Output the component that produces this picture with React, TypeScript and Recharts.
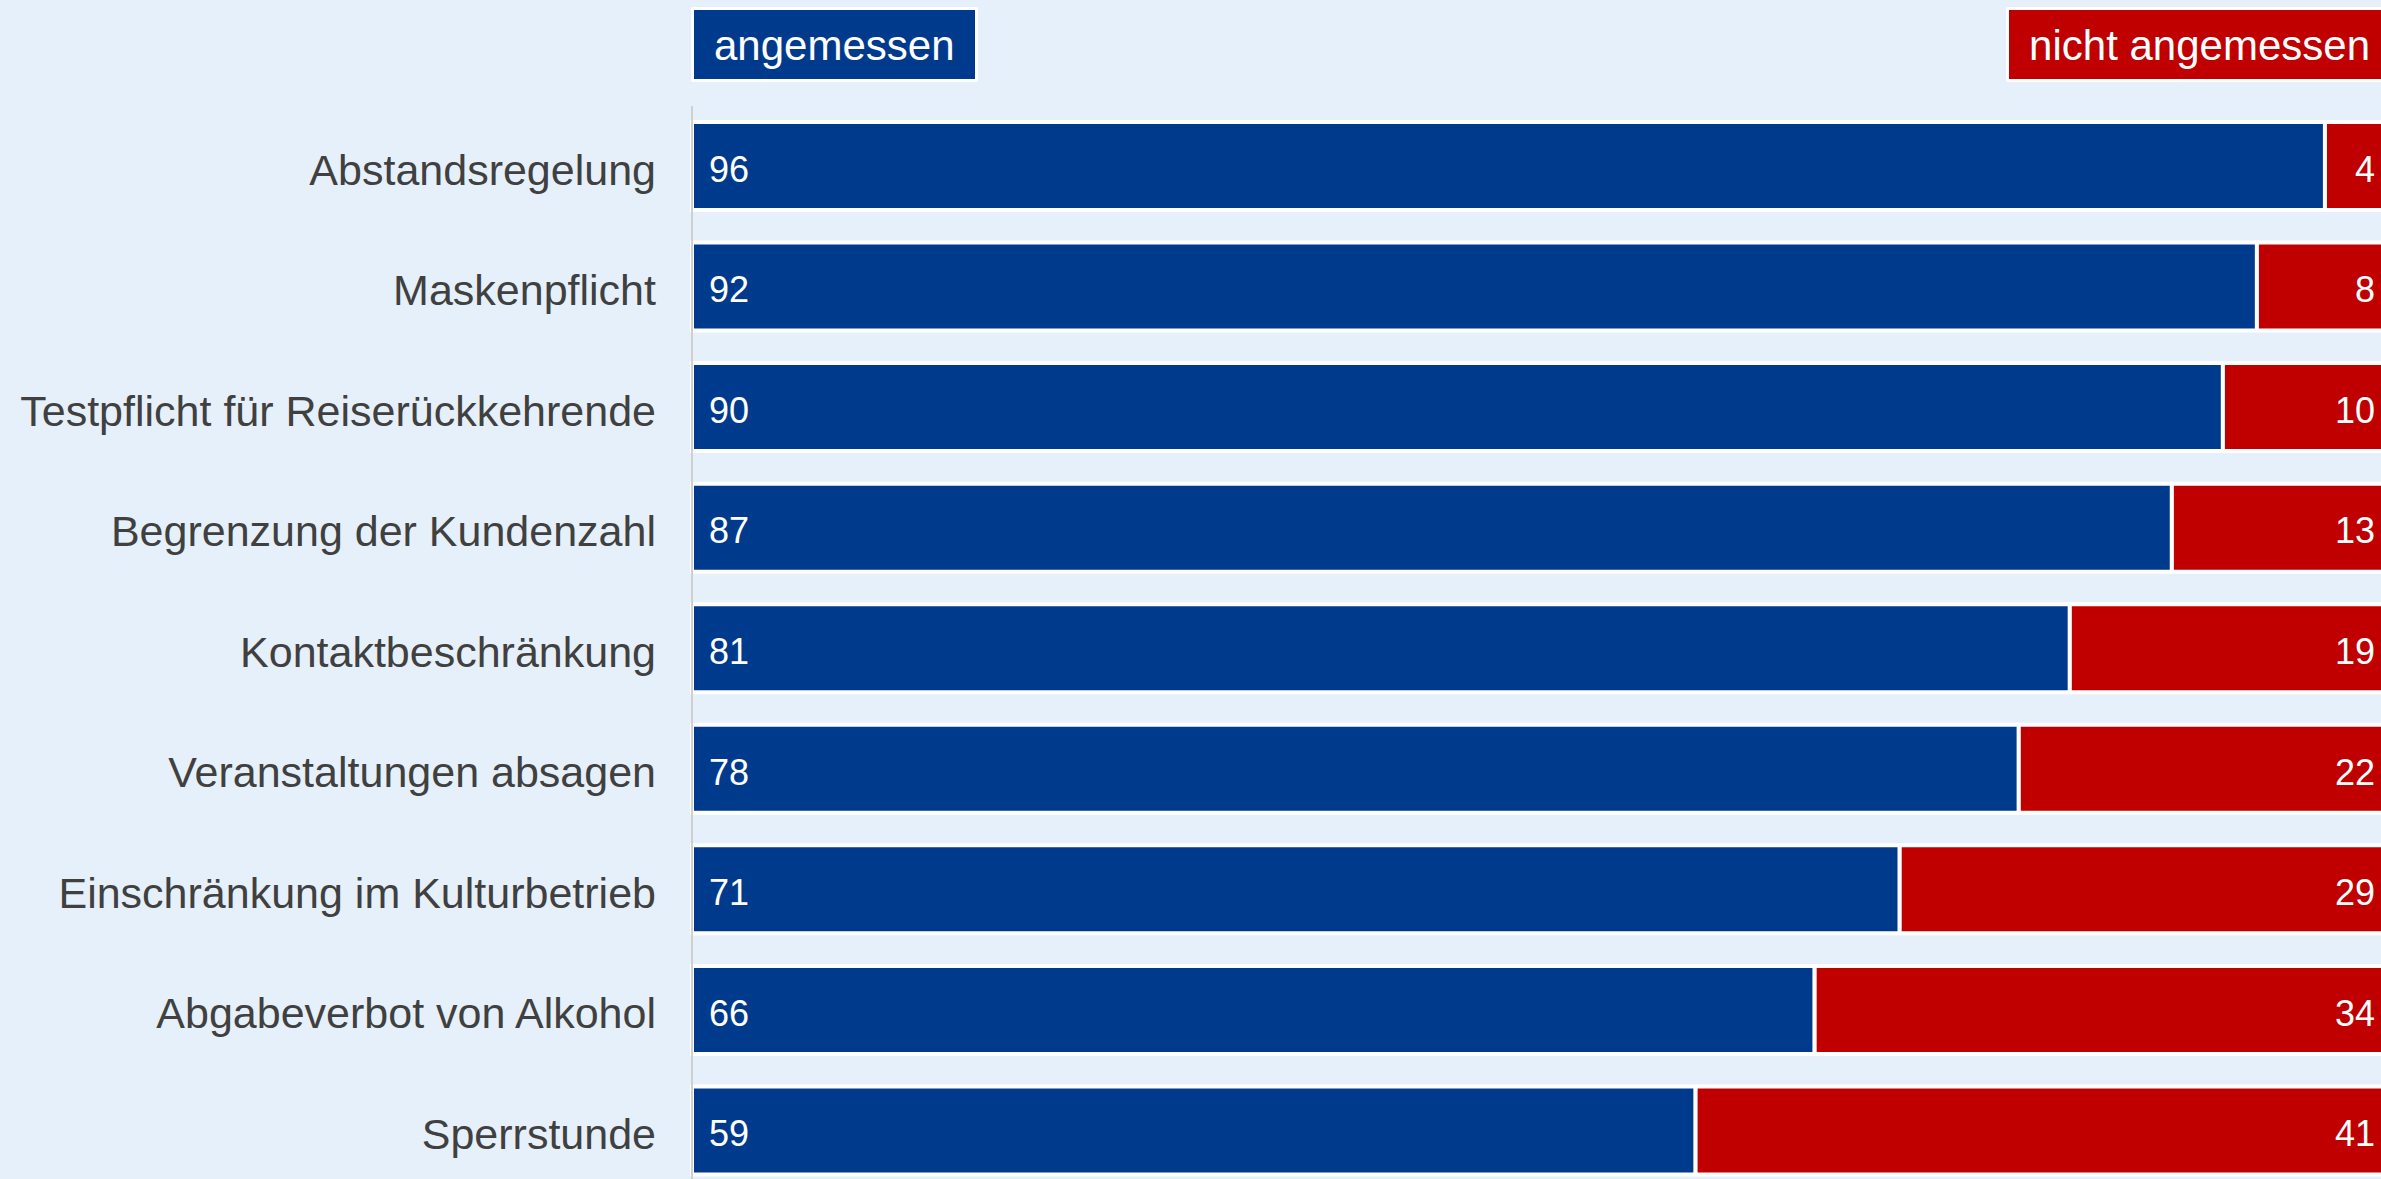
import { Bar, BarChart, LabelList, XAxis, YAxis } from "recharts";

const MEASURES = [
  "Abstandsregelung",
  "Maskenpflicht",
  "Testpflicht für Reiserückkehrende",
  "Begrenzung der Kundenzahl",
  "Kontaktbeschränkung",
  "Veranstaltungen absagen",
  "Einschränkung im Kulturbetrieb",
  "Abgabeverbot von Alkohol",
  "Sperrstunde",
];
const ANGEMESSEN = [96, 92, 90, 87, 81, 78, 71, 66, 59];
const NICHT_ANGEMESSEN = [4, 8, 10, 13, 19, 22, 29, 34, 41];
const SERIES_NAMES = ["angemessen", "nicht angemessen"];

const BLUE = "#003a8c";
const RED = "#c00000";
const BG = "#e6f0fa";
const FONT = '"Liberation Sans", Arial, Helvetica, sans-serif';

const data = MEASURES.map((name, i) => ({
  name,
  yes: ANGEMESSEN[i],
  no: NICHT_ANGEMESSEN[i],
}));

function LegendBox({ label, color }: { label: string; color: string }) {
  return (
    <span
      style={{
        display: "inline-block",
        background: color,
        color: "#fff",
        border: "3px solid #fff",
        borderRadius: 2,
        padding: "3px 20px 0",
        height: 66,
        fontSize: 42,
        lineHeight: "66px",
        whiteSpace: "nowrap",
      }}
    >
      {label}
    </span>
  );
}

export default function App() {
  return (
    <div
      style={{
        position: "fixed",
        left: 0,
        top: 0,
        width: 2381,
        height: 1179,
        overflow: "hidden",
        background: BG,
        fontFamily: FONT,
      }}
    >
      {/* legend sits over the plot area: left box flush with axis, right box flush with plot end */}
      <div
        style={{
          position: "absolute",
          top: 7,
          left: 691,
          width: 1702,
          display: "flex",
          justifyContent: "space-between",
          zIndex: 2,
        }}
      >
        <LegendBox label={SERIES_NAMES[0]} color={BLUE} />
        <LegendBox label={SERIES_NAMES[1]} color={RED} />
      </div>
      <BarChart
        width={2400}
        height={1200}
        data={data}
        layout="vertical"
        margin={{ top: 106, right: 7, bottom: 9, left: 0 }}
      >
        <XAxis type="number" domain={[0, 100]} hide />
        <YAxis
          type="category"
          dataKey="name"
          width={692}
          axisLine={{ stroke: "#d0d0d0", strokeWidth: 2 }}
          tickLine={false}
          tickSize={0}
          tickMargin={36}
          tick={{ fontSize: 43, fill: "#404040", dy: 3 }}
        />
        <Bar
          dataKey="yes"
          name={SERIES_NAMES[0]}
          stackId="a"
          fill={BLUE}
          stroke="#fff"
          strokeWidth={4}
          barSize={88}
          isAnimationActive={false}
        >
          <LabelList dataKey="yes" position="insideLeft" offset={17} fill="#fff" fontSize={36} dy={3} />
        </Bar>
        <Bar
          dataKey="no"
          name={SERIES_NAMES[1]}
          stackId="a"
          fill={RED}
          stroke="#fff"
          strokeWidth={4}
          barSize={88}
          isAnimationActive={false}
        >
          <LabelList dataKey="no" position="insideRight" offset={18} fill="#fff" fontSize={36} dy={3} />
        </Bar>
      </BarChart>
    </div>
  );
}
